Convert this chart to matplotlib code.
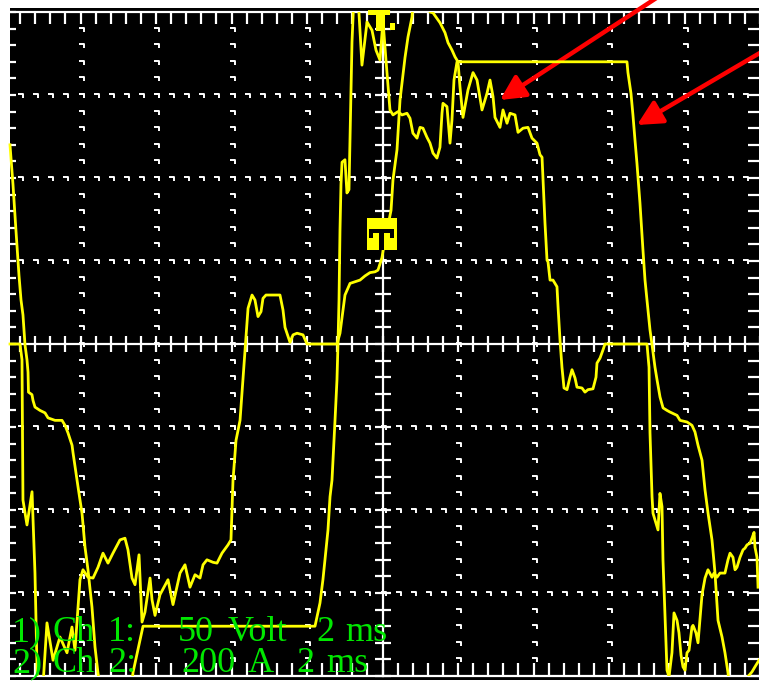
import numpy as np
import matplotlib.pyplot as plt
from matplotlib.path import Path
from matplotlib.patches import Rectangle

# scope screen: 10 x 8 divisions, time 2 ms/div, ch1 50 V/div, ch2 200 A/div
# traces stored in divisions; values beyond +-4 run off the screen
t1 = [0.066, 0.106, 0.145, 0.185, 0.212, 0.238, 0.265, 0.291, 0.305, 0.311,
      0.357, 0.371, 0.397, 0.463, 0.530, 0.570, 0.662, 0.755, 0.795, 0.834,
      0.888, 0.901, 0.967, 1.020, 1.060, 1.099, 1.152, 1.192, 1.231, 1.285,
      1.655, 1.695, 1.828, 1.854, 4.106, 4.172, 4.211, 4.238, 4.278, 4.305,
      4.331, 4.371, 4.397, 4.410, 4.424, 4.437, 4.450, 4.464, 4.503, 4.529,
      4.556, 4.596, 4.622, 4.675, 4.728, 4.795, 4.861, 4.914, 4.967, 5.006,
      5.046, 5.099, 5.139, 5.205, 5.258, 5.324, 5.364, 5.403, 5.457, 5.497,
      5.536, 5.589, 5.629, 5.669, 5.721, 5.761, 5.788, 5.801, 5.854, 5.894,
      5.920, 5.947, 5.987, 8.238, 8.251, 8.291, 8.317, 8.344, 8.370, 8.410,
      8.450, 8.477, 8.503, 8.543, 8.570, 8.609, 8.636, 8.676, 8.716, 8.768,
      8.808, 8.901, 8.941, 9.034, 9.099, 9.139, 9.179, 9.232, 9.272, 9.312,
      9.364, 9.404, 9.444, 9.497, 9.536, 9.576, 9.616, 9.788, 9.828, 9.894,
      9.933, 9.987]
ch1 = [2.40, 1.92, 1.37, 0.83, 0.53, 0.35, -0.01, -0.19, -0.34, -0.58,
       -0.61, -0.68, -0.76, -0.80, -0.83, -0.89, -0.92, -0.92, -0.98, -1.07,
       -1.22, -1.31, -1.72, -2.04, -2.45, -2.72, -3.17, -3.65, -3.96, -4.30,
       -4.30, -3.96, -3.40, -3.40, -3.40, -3.12, -2.84, -2.60, -2.24, -1.84,
       -1.64, -0.92, -0.43, -0.01, 0.53, 1.37, 1.92, 2.19, 2.22, 1.82,
       1.86, 3.64, 4.20, 4.20, 3.36, 3.88, 3.78, 3.54, 3.42, 3.90,
       3.42, 2.82, 2.76, 2.80, 2.76, 2.78, 2.72, 2.54, 2.48, 2.61,
       2.60, 2.49, 2.42, 2.30, 2.24, 2.37, 2.78, 2.90, 2.86, 2.42,
       2.70, 3.18, 3.40, 3.40, 3.27, 3.02, 2.76, 2.46, 2.18, 1.70,
       1.13, 0.77, 0.53, 0.17, -0.01, -0.28, -0.43, -0.64, -0.77, -0.80,
       -0.82, -0.86, -0.92, -0.94, -0.98, -1.06, -1.22, -1.40, -1.76, -2.04,
       -2.36, -2.76, -3.33, -3.53, -3.72, -3.96, -4.30, -4.30, -4.02, -3.95,
       -3.89, -3.81]

t2 = [0.066, 0.199, 0.225, 0.238, 0.291, 0.358, 0.397, 0.424, 0.437, 0.490,
      0.556, 0.636, 0.728, 0.821, 0.887, 0.927, 0.993, 1.033, 1.099, 1.166,
      1.232, 1.298, 1.364, 1.430, 1.523, 1.589, 1.629, 1.682, 1.722, 1.775,
      1.815, 1.854, 1.921, 1.947, 1.987, 2.053, 2.159, 2.225, 2.318, 2.384,
      2.450, 2.517, 2.583, 2.623, 2.675, 2.755, 2.808, 2.874, 2.954, 2.993,
      3.020, 3.060, 3.113, 3.152, 3.219, 3.272, 3.311, 3.351, 3.391, 3.417,
      3.457, 3.642, 3.682, 3.709, 3.775, 3.815, 3.868, 3.947, 4.000, 4.397,
      4.437, 4.477, 4.503, 4.570, 4.636, 4.702, 4.768, 4.834, 4.901, 4.940,
      4.993, 5.020, 5.073, 5.113, 5.139, 5.192, 5.205, 5.232, 5.258, 5.298,
      5.338, 5.391, 5.417, 5.589, 5.629, 5.669, 5.762, 5.828, 5.868, 5.921,
      5.960, 6.000, 6.026, 6.066, 6.132, 6.199, 6.252, 6.318, 6.384, 6.424,
      6.464, 6.490, 6.556, 6.596, 6.649, 6.689, 6.755, 6.795, 6.861, 6.927,
      6.980, 7.046, 7.086, 7.113, 7.126, 7.152, 7.179, 7.192, 7.219, 7.258,
      7.311, 7.325, 7.351, 7.377, 7.404, 7.444, 7.483, 7.510, 7.550, 7.576,
      7.642, 7.682, 7.722, 7.788, 7.828, 7.841, 7.881, 7.921, 7.947, 8.503,
      8.530, 8.543, 8.570, 8.583, 8.609, 8.636, 8.649, 8.675, 8.702, 8.715,
      8.742, 8.768, 8.795, 8.834, 8.861, 8.901, 8.927, 8.954, 8.980, 9.007,
      9.033, 9.060, 9.099, 9.113, 9.152, 9.179, 9.232, 9.272, 9.311, 9.364,
      9.391, 9.430, 9.470, 9.536, 9.576, 9.603, 9.642, 9.669, 9.695, 9.735,
      9.775, 9.801, 9.828, 9.868, 9.894, 9.921, 9.934, 9.960, 9.974]
ch2 = [0.00, 0.00, -0.19, -1.88, -2.18, -1.78, -2.76, -3.89, -4.30, -4.30,
       -3.36, -3.81, -3.53, -3.72, -3.41, -3.69, -2.84, -2.72, -2.81, -2.82,
       -2.69, -2.52, -2.64, -2.52, -2.36, -2.34, -2.48, -2.82, -2.90, -2.54,
       -3.35, -3.23, -2.82, -3.08, -3.27, -3.02, -2.84, -3.14, -2.76, -2.66,
       -2.93, -2.78, -2.82, -2.66, -2.60, -2.63, -2.64, -2.52, -2.42, -2.36,
       -1.64, -1.16, -0.92, -0.43, 0.43, 0.59, 0.53, 0.33, 0.39, 0.55,
       0.59, 0.59, 0.41, 0.20, 0.02, 0.11, 0.13, 0.11, 0.00, 0.00,
       0.13, 0.41, 0.59, 0.73, 0.75, 0.77, 0.82, 0.86, 0.87, 0.89,
       1.04, 1.19, 1.43, 1.61, 1.98, 2.34, 2.54, 2.94, 3.14, 3.45,
       3.70, 3.94, 4.30, 4.30, 4.00, 3.99, 3.87, 3.75, 3.63, 3.54,
       3.46, 3.40, 3.10, 2.73, 3.06, 3.27, 3.18, 2.82, 3.02, 3.18,
       2.98, 2.73, 2.61, 2.82, 2.66, 2.78, 2.76, 2.55, 2.60, 2.61,
       2.48, 2.42, 2.28, 2.25, 1.98, 1.46, 1.01, 0.99, 0.77, 0.77,
       0.69, 0.45, 0.05, -0.28, -0.53, -0.55, -0.40, -0.31, -0.41, -0.52,
       -0.53, -0.58, -0.55, -0.54, -0.40, -0.23, -0.17, -0.07, 0.00, 0.00,
       -0.28, -1.07, -1.84, -2.04, -2.12, -2.20, -2.24, -1.80, -1.96, -2.60,
       -3.29, -3.93, -4.01, -3.72, -3.24, -3.33, -3.48, -3.75, -3.89, -3.93,
       -3.72, -3.69, -3.41, -3.39, -3.48, -3.60, -3.02, -2.82, -2.72, -2.81,
       -2.76, -2.81, -2.76, -2.76, -2.60, -2.52, -2.57, -2.72, -2.69, -2.57,
       -2.48, -2.46, -2.42, -2.40, -2.34, -2.27, -2.45, -2.57, -2.93]

# trigger position (div) and level (div)
trig_t = 4.99
trig_lvl = 1.325

labels1 = [('1)', 12), ('Ch', 53), ('1:', 108), ('50', 178), ('Volt', 228), ('2', 316), ('ms', 345)]
labels2 = [('2)', 12), ('Ch', 53), ('2:', 108), ('200', 181), ('A', 248), ('2', 296), ('ms', 326)]

W, H = 759, 685
yellow = '#ffff00'
white = 'white'
green = '#00e800'

fig = plt.figure(figsize=(W / 100, H / 100), dpi=100, facecolor='white')
fig.patches.append(Rectangle((10 / W, 5 / H), 1 - 10 / W, 672 / H,
                             transform=fig.transFigure, facecolor='black',
                             edgecolor='none', zorder=-1))
ax = fig.add_axes([5 / W, 9 / H, 755 / W, 664 / H])
ax.set_xlim(0, 10)
ax.set_ylim(-4, 4)
ax.axis('off')

xs = np.round(np.arange(0, 10.01, 0.2), 2)
ys = np.round(np.arange(-4, 4.01, 0.2), 2)

# graticule: dotted division lines made of little corner marks
corner = Path([(-1, 0.5), (1, 0.5), (1, -1)], [Path.MOVETO, Path.LINETO, Path.LINETO])
gkw = dict(ls='none', marker=corner, ms=3.6, mew=1.4, mec=white, mfc='none', clip_on=False, zorder=2)
for gx in [1, 2, 3, 4, 6, 7, 8, 9]:
    ax.plot(np.full(len(ys) - 2, gx), ys[1:-1], **gkw)
for gy in [-3, -2, -1, 1, 2, 3]:
    ax.plot(xs[1:-1], np.full(len(xs) - 2, gy), **gkw)

# centre cross with sub-division ticks
ax.axhline(0, color=white, lw=1.6, clip_on=False, zorder=2)
ax.axvline(5, color=white, lw=1.6, clip_on=False, zorder=2)
tkw = dict(ls='none', color=white, mew=1.6, clip_on=False, zorder=2)
ax.plot(xs, np.zeros_like(xs), marker='|', ms=12, **tkw)
ax.plot(np.full_like(ys, 5), ys, marker='_', ms=12, **tkw)

# frame with inward ticks
ax.axhline(4, color=white, lw=1.6, clip_on=False, zorder=2)
ax.axhline(-4, color=white, lw=1.6, clip_on=False, zorder=2)
ax.plot(xs, np.full_like(xs, 4), marker=3, ms=8.6, **tkw)
ax.plot(xs, np.full_like(xs, -4), marker=2, ms=9.4, **tkw)
ax.plot(np.zeros_like(ys), ys, marker=1, ms=8, **tkw)
ax.plot(np.full_like(ys, 10), ys, marker=0, ms=8.6, **tkw)

# traces
ax.plot(t1, ch1, color=yellow, lw=2.0, zorder=5)
ax.plot(t2, ch2, color=yellow, lw=2.0, zorder=5)

# trigger level marker
ax.add_patch(Rectangle((trig_t - 0.2, trig_lvl - 0.193), 0.4, 0.386, fc=yellow, ec='none', zorder=6))
for x0, y0, w, h in [(-0.166, 0.012, 0.332, 0.048), (-0.03, -0.193, 0.06, 0.253),
                     (-0.172, -0.048, 0.053, 0.06), (0.106, -0.048, 0.053, 0.06)]:
    ax.add_patch(Rectangle((trig_t + x0, trig_lvl + y0), w, h, fc='black', ec='none', zorder=7))

# trigger time marker on the top edge
for x0, y0, w, h in [(-0.185, 3.964, 0.291, 0.06), (-0.08, 3.771, 0.12, 0.2),
                     (0.106, 3.783, 0.066, 0.084)]:
    ax.add_patch(Rectangle((trig_t + x0, y0), w, h, fc=yellow, ec='none', zorder=7, clip_on=False))

# red pointer arrows
akw = dict(arrowstyle='-|>,head_length=0.75,head_width=0.38', color='red', lw=3.2,
           mutation_scale=20, shrinkA=0, shrinkB=0)
ax.annotate('', xy=(500, 585), xytext=(661, 690), xycoords='figure pixels',
            arrowprops=akw, annotation_clip=False)
ax.annotate('', xy=(637, 560), xytext=(770, 638), xycoords='figure pixels',
            arrowprops=akw, annotation_clip=False)

# channel settings
for words, base in [(labels1, 44), (labels2, 13)]:
    for s, x in words:
        fig.text(x / W, base / H, s, family='Liberation Serif', fontsize=26,
                 color=green, va='baseline', ha='left')

fig.savefig('out.png', dpi=100)
